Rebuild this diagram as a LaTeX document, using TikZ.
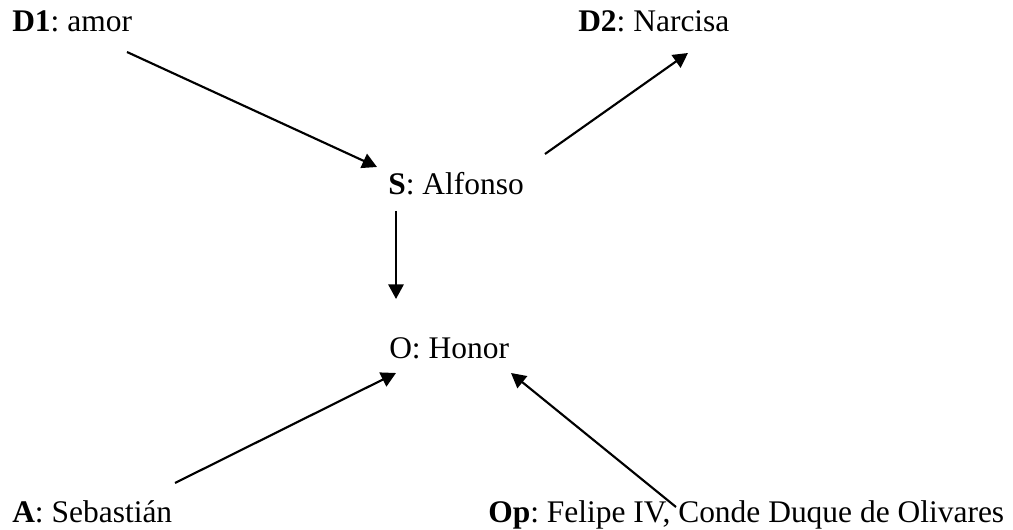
\documentclass[tikz,border=0pt]{standalone}
\usepackage{fontspec}
\setmainfont{Liberation Serif}
\usetikzlibrary{arrows.meta}
\frenchspacing
\begin{document}
\begin{tikzpicture}[x=0.75pt,y=-0.75pt,
  actant/.style={anchor=base west,inner sep=0pt,font=\fontsize{23.6}{28}\selectfont},
  link/.style={line width=1.6pt,-{Triangle[length=11pt,width=11.5pt]}}]
\useasboundingbox (0,0) rectangle (1013,530);
% actants
\node[actant] (d1) at (12,32)  {\textbf{D1}: amor};
\node[actant] (d2) at (578,32) {\textbf{D2}: Narcisa};
\node[actant] (s)  at (388,195) {\textbf{S}: Alfonso};
\node[actant] (o)  at (389,359) {O: Honor};
\node[actant] (a)  at (12,522) {\textbf{A}: Sebastián};
\node[actant] (op) at (488,522) {\textbf{Op}: Felipe IV, Conde Duque de Olivares};
% arrow end points
\coordinate (d1out) at (127,52);
\coordinate (sin)   at (377,167);
\coordinate (sout)  at (545,154);
\coordinate (d2in)  at (688,53);
\coordinate (sdown) at (396,211);
\coordinate (otop)  at (396,299);
\coordinate (aout)  at (175,483);
\coordinate (oleft) at (396,373);
\coordinate (opout) at (676,507);
\coordinate (oright) at (511,373);
% relations
\draw[link] (d1out) -- (sin);
\draw[link] (sout) -- (d2in);
\draw[link] (sdown) -- (otop);
\draw[link] (aout) -- (oleft);
\draw[link] (opout) -- (oright);
\end{tikzpicture}
\end{document}
